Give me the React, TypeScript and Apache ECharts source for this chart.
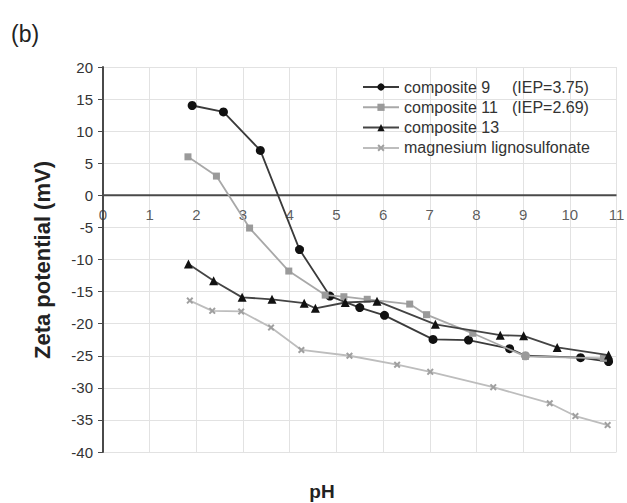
import React, { useEffect, useRef } from "react";
import * as echarts from "echarts";

const seriesNames = ["composite 9", "composite 11", "composite 13", "magnesium lignosulfonate"];
const iepLabels = ["(IEP=3.75)", "(IEP=2.69)", "", ""];

const composite9: [number, number][] = [
  [1.91, 14.0], [2.58, 13.0], [3.37, 7.0], [4.21, -8.45], [4.86, -15.7], [5.5, -17.5],
  [6.03, -18.7], [7.07, -22.45], [7.83, -22.55], [8.71, -23.9], [9.05, -25.0], [10.23, -25.3], [10.83, -25.9],
];
const composite11: [number, number][] = [
  [1.82, 6.0], [2.43, 3.0], [3.14, -5.1], [3.98, -11.8], [4.76, -15.55], [5.16, -15.8], [5.66, -16.2],
  [6.57, -16.95], [6.93, -18.6], [7.92, -21.5], [9.05, -25.1], [10.72, -25.4],
];
const composite13: [number, number][] = [
  [1.83, -10.7], [2.37, -13.3], [2.98, -15.9], [3.62, -16.2], [4.31, -16.8], [4.55, -17.6], [5.19, -16.7],
  [5.87, -16.5], [7.12, -20.1], [8.51, -21.8], [9.01, -21.9], [9.73, -23.7], [10.83, -24.9],
];
const magnesiumLignosulfonate: [number, number][] = [
  [1.86, -16.4], [2.34, -18.0], [2.96, -18.1], [3.6, -20.6], [4.25, -24.1], [5.28, -25.0], [6.3, -26.4],
  [7.01, -27.5], [8.36, -29.9], [9.57, -32.4], [10.12, -34.4], [10.81, -35.8],
];

const xMin = 0, xMax = 11, xStep = 1;
const yMin = -40, yMax = 20, yStep = 5;
const xTickValues = [0, 1, 2, 3, 4, 5, 6, 7, 8, 9, 10, 11];

const FONT = "'Liberation Sans', Arial, sans-serif";
const crossPath = "path://M2,0L5,3L8,0L10,2L7,5L10,8L8,10L5,7L2,10L0,8L3,5L0,2Z";

export default function App() {
  const ref = useRef<HTMLDivElement>(null);
  useEffect(() => {
    if (!ref.current) return;
    const chart = echarts.init(ref.current, null, { renderer: "svg" });
    const allData = [composite9, composite11, composite13, magnesiumLignosulfonate];
    const styles = [
      { line: "#3a3a3a", marker: "#111111", symbol: "circle", size: 9 },
      { line: "#a8a8a8", marker: "#9a9a9a", symbol: "rect", size: 7 },
      { line: "#444444", marker: "#111111", symbol: "triangle", size: 9 },
      { line: "#bdbdbd", marker: "#a0a0a0", symbol: crossPath, size: 7 },
    ];
    const dataSeries = allData.map((d, i) => ({
      name: seriesNames[i],
      type: "line",
      data: d.map((p, j) =>
        i === 0 && j === 10 ? { value: p, itemStyle: { color: "#9a9a9a" } } : p
      ),
      symbol: styles[i].symbol,
      symbolSize: styles[i].size,
      showSymbol: true,
      lineStyle: { color: styles[i].line, width: 1.8 },
      itemStyle: { color: styles[i].marker, borderWidth: 0 },
      z: 4 + i,
    }));
    const zeroLine = {
      name: "zero",
      type: "line",
      data: [[xMin, 0], [xMax, 0]],
      symbol: "none",
      lineStyle: { color: "#4a4a4a", width: 2 },
      silent: true,
      z: 3,
    };
    const xLabels = {
      name: "xlabels",
      type: "scatter",
      data: xTickValues.map((v) => [v, 0]),
      symbolSize: 0,
      silent: true,
      z: 3,
      label: {
        show: true,
        position: "bottom",
        distance: 12,
        formatter: (p: any) => String(p.value[0]),
        fontSize: 15,
        color: "#333333",
        fontFamily: FONT,
      },
    };
    chart.setOption({
      animation: false,
      backgroundColor: "#ffffff",
      textStyle: { fontFamily: FONT },
      grid: { left: 103, right: 10.5, top: 67, bottom: 51, containLabel: false },
      legend: {
        orient: "vertical",
        left: 357,
        top: 73,
        itemWidth: 36,
        itemHeight: 9,
        itemGap: 2.3,
        data: seriesNames,
        formatter: (name: string) => {
          const idx = seriesNames.indexOf(name);
          const iep = iepLabels[idx];
          return iep ? `{a|${name}}{b|${iep}}` : `{c|${name}}`;
        },
        textStyle: {
          fontFamily: FONT,
          fontSize: 16,
          color: "#333333",
          lineHeight: 18,
          rich: {
            a: { width: 108, fontSize: 16, color: "#333333", fontFamily: FONT, lineHeight: 18 },
            b: { fontSize: 16, color: "#333333", fontFamily: FONT, lineHeight: 18 },
            c: { fontSize: 16, color: "#333333", fontFamily: FONT, lineHeight: 18 },
          },
        },
      },
      xAxis: {
        type: "value",
        min: xMin,
        max: xMax,
        interval: xStep,
        axisLine: { show: false },
        axisTick: { show: false },
        axisLabel: { show: false },
        splitLine: { show: true, lineStyle: { color: "#e2e2e2", width: 1 } },
      },
      yAxis: {
        type: "value",
        min: yMin,
        max: yMax,
        interval: yStep,
        axisLine: { show: true, onZero: false, lineStyle: { color: "#4a4a4a", width: 2 } },
        axisTick: { show: true, length: 5, lineStyle: { color: "#4a4a4a" } },
        axisLabel: { fontSize: 15, color: "#333333", margin: 10, fontFamily: FONT },
        splitLine: { show: true, lineStyle: { color: "#e2e2e2", width: 1 } },
      },
      graphic: [
        {
          type: "text",
          left: 11,
          top: 22,
          style: { text: "(b)", fontSize: 23, fill: "#222222", fontFamily: FONT },
        },
        {
          type: "text",
          x: 42,
          y: 260,
          rotation: Math.PI / 2,
          style: {
            text: "Zeta potential (mV)",
            fontSize: 22,
            fontWeight: "bold",
            fill: "#222222",
            fontFamily: FONT,
            align: "center",
            verticalAlign: "middle",
          },
        },
        {
          type: "text",
          x: 322,
          y: 491,
          style: {
            text: "pH",
            fontSize: 19,
            fontWeight: "bold",
            fill: "#222222",
            fontFamily: FONT,
            align: "center",
            verticalAlign: "middle",
          },
        },
      ],
      series: [zeroLine, xLabels, ...dataSeries],
    });
    return () => chart.dispose();
  }, []);
  return <div ref={ref} style={{ width: 627, height: 503, position: "absolute", left: 0, top: 0 }} />;
}
